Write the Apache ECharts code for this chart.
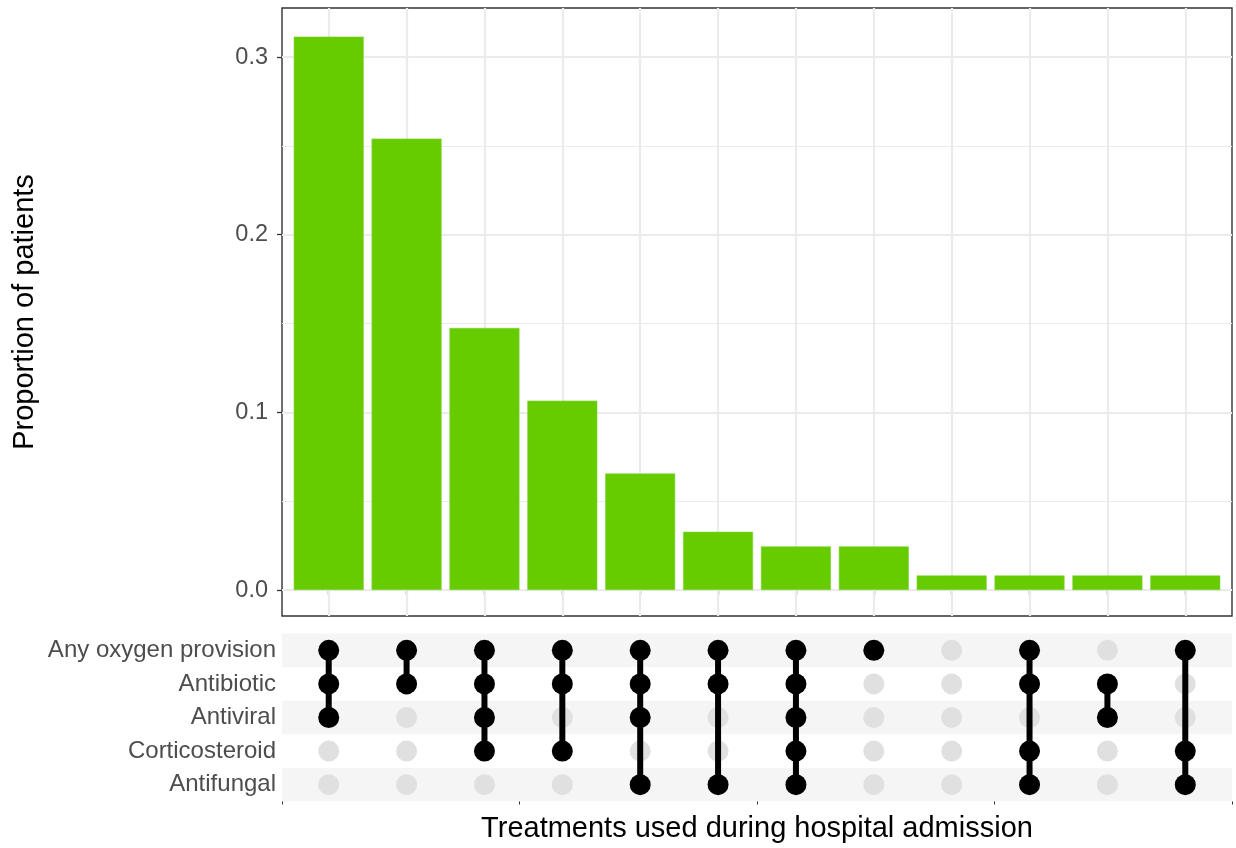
<!DOCTYPE html>
<html>
<head>
<meta charset="utf-8">
<script src="https://cdn.jsdelivr.net/npm/echarts@6/dist/echarts.min.js"></script>
<style>
  html, body { margin: 0; padding: 0; background: #ffffff; }
  #chart { width: 1236px; height: 848px; }
</style>
</head>
<body>
<div id="chart"></div>
<script>
// Treatment sets shown as matrix rows (top to bottom)
const treatments = ['Any oxygen provision', 'Antibiotic', 'Antiviral', 'Corticosteroid', 'Antifungal'];

// Treatment combinations, one per column (left to right)
const combinations = [
  ['Any oxygen provision', 'Antibiotic', 'Antiviral'],
  ['Any oxygen provision', 'Antibiotic'],
  ['Any oxygen provision', 'Antibiotic', 'Antiviral', 'Corticosteroid'],
  ['Any oxygen provision', 'Antibiotic', 'Corticosteroid'],
  ['Any oxygen provision', 'Antibiotic', 'Antiviral', 'Antifungal'],
  ['Any oxygen provision', 'Antibiotic', 'Antifungal'],
  ['Any oxygen provision', 'Antibiotic', 'Antiviral', 'Corticosteroid', 'Antifungal'],
  ['Any oxygen provision'],
  [],
  ['Any oxygen provision', 'Antibiotic', 'Corticosteroid', 'Antifungal'],
  ['Antibiotic', 'Antiviral'],
  ['Any oxygen provision', 'Corticosteroid', 'Antifungal']
];

// Proportion of patients in each combination
const proportions = [0.3115, 0.2541, 0.1475, 0.1066, 0.0656, 0.0328, 0.0246, 0.0246, 0.0082, 0.0082, 0.0082, 0.0082];

// Y axis tick labels and grid lines
const yMajorTicks = [0, 0.1, 0.2, 0.3];
const yMinorTicks = [0.05, 0.15, 0.25];

const FONT = '"Liberation Sans", Arial, Helvetica, sans-serif';
const GREEN = '#66CC00';
const GRID_COLOR = '#EBEBEB';

const positions = combinations.map((_, i) => i + 1);
const xMin = 0.4, xMax = combinations.length + 0.6;
const yMin = -0.0146, yMax = 0.3276;

// matrix points
const activeDots = [], inactiveDots = [], connectors = [];
combinations.forEach((combo, i) => {
  const rows = [];
  treatments.forEach((t, r) => {
    if (combo.includes(t)) { activeDots.push([i + 1, r]); rows.push(r); }
    else inactiveDots.push([i + 1, r]);
  });
  if (rows.length > 1) connectors.push([i + 1, Math.min(...rows), Math.max(...rows)]);
});

const chart = echarts.init(document.getElementById('chart'), null, { renderer: 'canvas' });

chart.setOption({
  animation: false,
  backgroundColor: '#ffffff',
  textStyle: { fontFamily: FONT },
  grid: [
    { left: 282, top: 8, width: 950, height: 608, show: true, borderColor: '#333333', borderWidth: 1.4, backgroundColor: '#ffffff', containLabel: false },
    { left: 282, top: 633.5, width: 950, height: 168, containLabel: false }
  ],
  xAxis: [
    {
      gridIndex: 0, type: 'value', min: xMin, max: xMax,
      axisLine: { show: false },
      axisTick: { show: true, customValues: positions, length: 5, lineStyle: { color: '#333333', width: 1.3 } },
      axisLabel: { show: false, customValues: positions },
      splitLine: { show: false }
    },
    {
      gridIndex: 1, type: 'value', min: xMin, max: xMax, show: false
    },
    {
      gridIndex: 1, type: 'value', min: 0, max: 4, interval: 1, position: 'bottom',
      axisLine: { show: false },
      axisTick: { show: true, length: 3, lineStyle: { color: '#333333', width: 1 } },
      axisLabel: { show: false },
      splitLine: { show: false },
      name: 'Treatments used during hospital admission',
      nameLocation: 'middle', nameGap: 13,
      nameTextStyle: { fontSize: 29, color: '#000000', fontFamily: FONT }
    }
  ],
  yAxis: [
    {
      gridIndex: 0, type: 'value', min: yMin, max: yMax,
      axisLine: { show: false },
      axisTick: { show: true, customValues: yMajorTicks, length: 5, lineStyle: { color: '#333333', width: 1.3 } },
      axisLabel: {
        customValues: yMajorTicks, formatter: v => v.toFixed(1),
        fontSize: 23.5, color: '#4D4D4D', margin: 14, fontFamily: FONT
      },
      splitLine: { show: false },
      name: 'Proportion of patients',
      nameLocation: 'middle', nameGap: 243, nameRotate: 90,
      nameTextStyle: { fontSize: 29, color: '#000000', fontFamily: FONT }
    },
    {
      gridIndex: 1, type: 'category', data: treatments, inverse: true,
      axisLine: { show: false },
      axisTick: { show: false },
      axisLabel: { fontSize: 24, color: '#4D4D4D', margin: 6, fontFamily: FONT },
      splitLine: { show: false }
    }
  ],
  series: [
    {
      // panel grid lines
      type: 'line', xAxisIndex: 0, yAxisIndex: 0, data: [], z: 1, silent: true,
      markLine: {
        z: 1, silent: true, symbol: ['none', 'none'], label: { show: false }, animation: false,
        data: [
          ...yMinorTicks.map(v => ({ yAxis: v, lineStyle: { color: GRID_COLOR, width: 1.2, type: 'solid' } })),
          ...yMajorTicks.map(v => ({ yAxis: v, lineStyle: { color: GRID_COLOR, width: 2.2, type: 'solid' } })),
          ...positions.map(v => ({ xAxis: v, lineStyle: { color: GRID_COLOR, width: 2.2, type: 'solid' } }))
        ]
      }
    },
    {
      type: 'bar', xAxisIndex: 0, yAxisIndex: 0, z: 3,
      barWidth: 70,
      itemStyle: { color: GREEN, borderColor: '#7ED43A', borderWidth: 0.6, opacity: 1 },
      data: proportions.map((v, i) => [positions[i], v])
    },
    {
      // alternating row stripes
      type: 'bar', xAxisIndex: 1, yAxisIndex: 1, z: 0, silent: true,
      barWidth: '100%', barCategoryGap: '0%',
      itemStyle: { color: '#F5F5F5', opacity: 1 },
      data: treatments.map((t, r) => (r % 2 === 0 ? xMax : '-'))
    },
    {
      type: 'scatter', xAxisIndex: 1, yAxisIndex: 1, z: 1, silent: true,
      symbol: 'circle', symbolSize: 21,
      itemStyle: { color: '#E0E0E0', opacity: 1 },
      data: inactiveDots
    },
    {
      type: 'custom', xAxisIndex: 1, yAxisIndex: 1, z: 2, silent: true,
      encode: { x: 0, y: [1, 2] },
      renderItem: (params, api) => {
        const p1 = api.coord([api.value(0), api.value(1)]);
        const p2 = api.coord([api.value(0), api.value(2)]);
        return {
          type: 'line',
          shape: { x1: p1[0], y1: p1[1], x2: p2[0], y2: p2[1] },
          style: { stroke: '#000000', lineWidth: 6 }
        };
      },
      data: connectors
    },
    {
      type: 'scatter', xAxisIndex: 1, yAxisIndex: 1, z: 3, silent: true,
      symbol: 'circle', symbolSize: 21,
      itemStyle: { color: '#000000', opacity: 1 },
      data: activeDots
    }
  ]
});
</script>
</body>
</html>
